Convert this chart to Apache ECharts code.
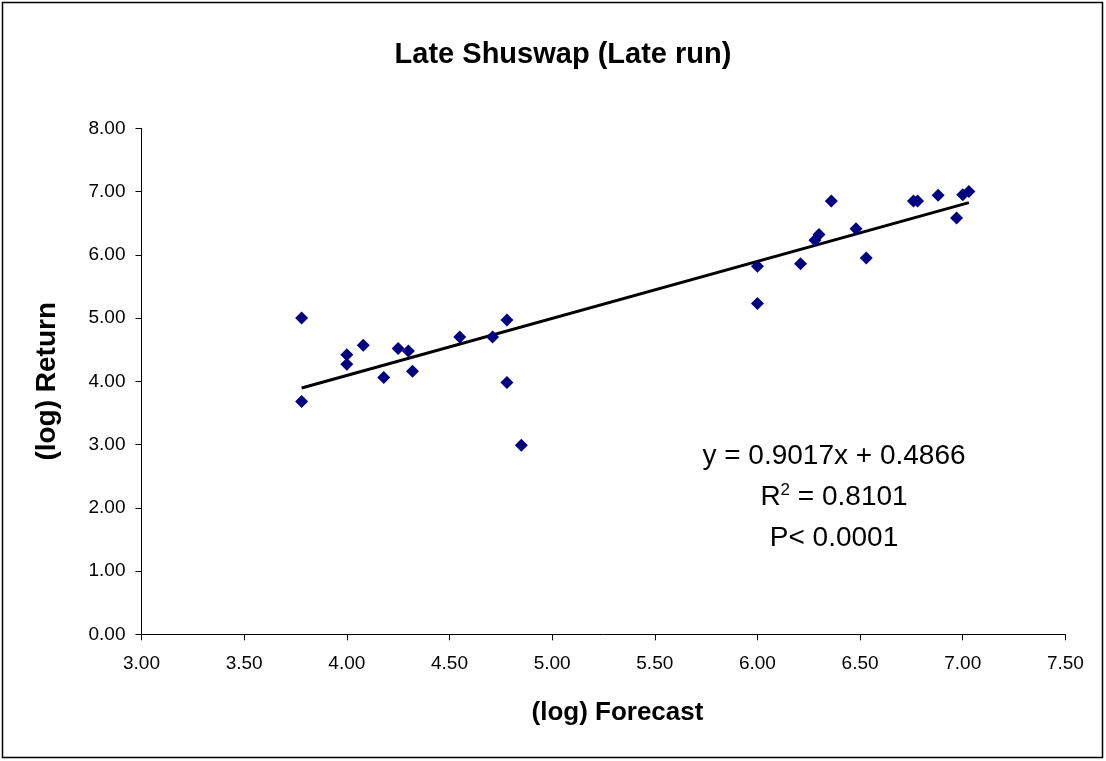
<!DOCTYPE html>
<html><head><meta charset="utf-8">
<script src="https://cdn.jsdelivr.net/npm/echarts@6/dist/echarts.min.js"></script>
<style>html,body{margin:0;padding:0;background:#fff}#c{width:1106px;height:761px}</style>
</head><body><div id="c"></div>
<script>
const forecast = [3.78,3.78,4.00,4.00,4.08,4.18,4.25,4.30,4.32,4.55,4.71,4.78,4.78,4.85,
  6.00,6.00,6.21,6.28,6.30,6.36,6.48,6.53,6.76,6.78,6.88,6.97,7.00,7.03];
const returns = [5.00,3.68,4.42,4.27,4.57,4.06,4.52,4.48,4.16,4.70,4.70,4.97,3.98,2.99,
  5.82,5.23,5.86,6.23,6.32,6.85,6.41,5.95,6.85,6.85,6.94,6.58,6.95,7.00];
const slope = 0.9017, intercept = 0.4866;
const xTicks = [3.00,3.50,4.00,4.50,5.00,5.50,6.00,6.50,7.00,7.50];
const yTicks = [0,1,2,3,4,5,6,7,8];
const title = 'Late Shuswap (Late run)';
const eqLines = ['y = 0.9017x + 0.4866','R{sup|2} = 0.8101','P< 0.0001'];

const pts = forecast.map((x,i)=>[x,returns[i]]);
const xmin = Math.min(...forecast), xmax = Math.max(...forecast);
const trend = [[xmin, slope*xmin+intercept],[xmax, slope*xmax+intercept]];
const font = '"Liberation Sans", Arial, sans-serif';

const chart = echarts.init(document.getElementById('c'), null, {renderer:'canvas'});
chart.setOption({
  animation:false,
  backgroundColor:'#fff',
  title:{text:title,left:558,textAlign:'center',top:35,textStyle:{fontFamily:font,fontSize:29,fontWeight:'bold',color:'#000'}},
  grid:{left:141.5,right:40.6,top:128.3,bottom:126.7,show:false},
  xAxis:{type:'value',min:xTicks[0],max:xTicks[xTicks.length-1],interval:0.5,
    name:'(log) Forecast',nameLocation:'middle',nameGap:66,
    nameTextStyle:{fontFamily:font,fontSize:26,fontWeight:'bold',color:'#000',padding:[0,0,0,28]},
    axisLine:{show:true,onZero:false,lineStyle:{color:'#000',width:1}},
    axisTick:{show:true,length:6,lineStyle:{color:'#000'}},
    axisLabel:{fontFamily:font,fontSize:19,color:'#000',margin:20,formatter:v=>v.toFixed(2)},
    splitLine:{show:false}},
  yAxis:{type:'value',min:yTicks[0],max:yTicks[yTicks.length-1],interval:1,
    name:'(log) Return',nameLocation:'middle',nameGap:80,
    nameTextStyle:{fontFamily:font,fontSize:28,fontWeight:'bold',color:'#000'},
    axisLine:{show:true,onZero:false,lineStyle:{color:'#000',width:1}},
    axisTick:{show:true,length:6,lineStyle:{color:'#000'}},
    axisLabel:{fontFamily:font,fontSize:19,color:'#000',margin:16,formatter:v=>v.toFixed(2)},
    splitLine:{show:false}},
  series:[
    {type:'line',data:trend,symbol:'none',lineStyle:{color:'#000',width:3},z:3},
    {type:'scatter',data:pts,symbol:'diamond',symbolSize:13,itemStyle:{color:'#000080',opacity:1},z:4}
  ],
  graphic:[
    {type:'rect',shape:{x:2.5,y:2.5,width:1100,height:755},style:{fill:null,stroke:'#000',lineWidth:1.5},silent:true},
    ...eqLines.map((t,i)=>({type:'text',x:834,y:456+i*41,style:{text:t,fontFamily:font,fontSize:28,fill:'#000',align:'center',verticalAlign:'middle',
      rich:{sup:{fontFamily:font,fontSize:17,verticalAlign:'top',padding:[0,0,14,0]}}}}))
  ]
});
</script></body></html>
